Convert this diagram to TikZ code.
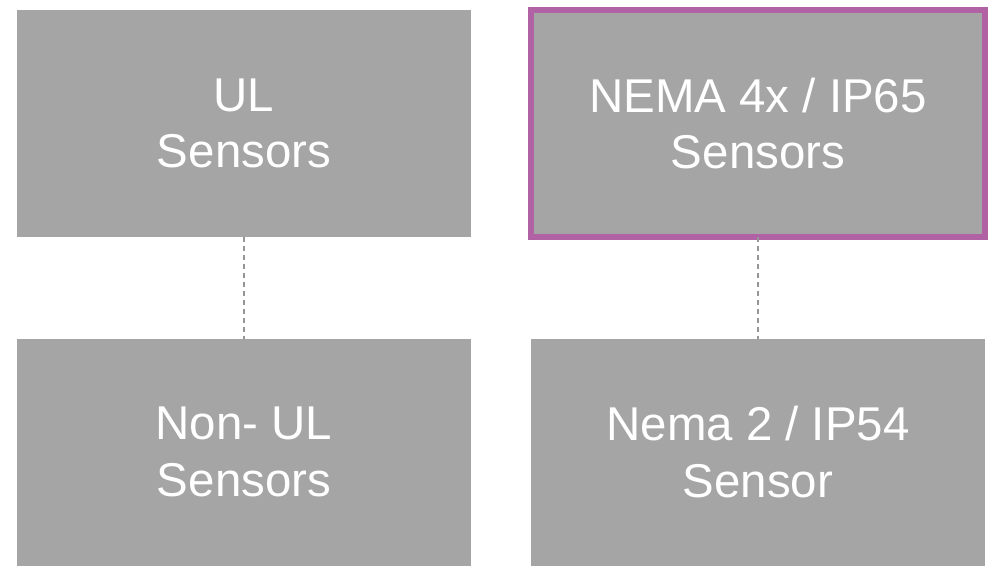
\documentclass[tikz,border=0pt]{standalone}
\usepackage{fontspec}
\setmainfont{Liberation Sans}
\definecolor{boxgray}{RGB}{165,165,165}
\definecolor{ratepurple}{RGB}{176,98,164}
\definecolor{linkgray}{RGB}{150,150,150}

\def\boxWidth{9.08}
\def\boxHeight{4.54}

\tikzset{
    sensorbox/.style = {fill = boxgray, text = white, align = center,
        minimum width = \boxWidth cm, minimum height = \boxHeight cm,
        inner sep = 0pt, outer sep = 0pt,
        font = \fontsize{27}{32}\selectfont},
    chosen/.style = {draw = ratepurple, line width = 3.4pt},
    link/.style = {draw = linkgray, line width = 0.6pt,
        dash pattern = on 2.8pt off 2.3pt}
}

\begin{document}
\begin{tikzpicture}
            \useasboundingbox (0,0) rectangle (20,-11.4);
            \node [sensorbox] (ul) at (4.88,-2.47) {UL\\Sensors};
            \node [sensorbox, chosen] (nema) at (15.16,-2.475) {NEMA 4x / IP65\\Sensors};
            \node [sensorbox] (nonul) at (4.88,-9.04) {Non- UL\\Sensors};
            \node [sensorbox] (ip) at (15.16,-9.04) {Nema 2 / IP54\\Sensor};
            \draw [link] (ul.south) -- (nonul.north);
            \draw [link] (nema.south) -- (ip.north);
        \end{tikzpicture}
\end{document}
